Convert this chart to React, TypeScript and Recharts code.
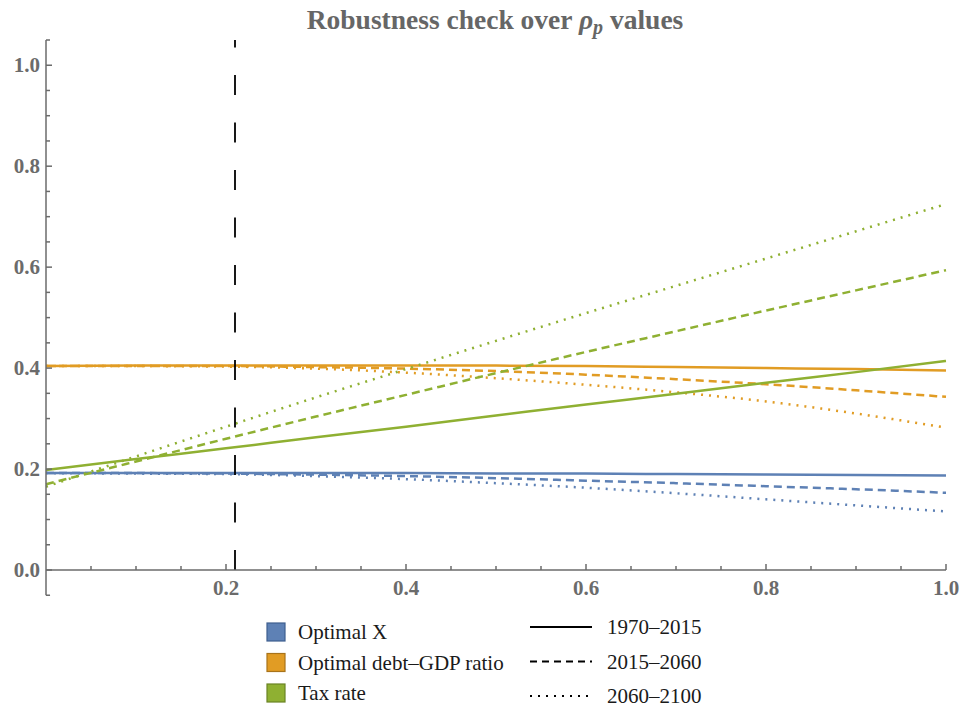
import { LineChart, Line, XAxis, YAxis, ReferenceLine, Legend } from "recharts";

// Mathematica-like default palette
const BLUE = "#5E81B5";
const ORANGE = "#E19C24";
const GREEN = "#8FB032";
const AXIS_GRAY = "#6b6b6b";
const SERIF = "'Liberation Serif', 'Times New Roman', serif";

const rhoValues = [0, 0.1, 0.2, 0.3, 0.4, 0.5, 0.6, 0.7, 0.8, 0.9, 1.0];

const optimalX1970 = [0.192, 0.192, 0.192, 0.192, 0.192, 0.191, 0.191, 0.190, 0.189, 0.188, 0.187];
const optimalX2015 = [0.192, 0.192, 0.191, 0.189, 0.186, 0.182, 0.177, 0.172, 0.166, 0.160, 0.153];
const optimalX2060 = [0.192, 0.191, 0.190, 0.186, 0.180, 0.172, 0.163, 0.152, 0.140, 0.128, 0.116];

const debt1970 = [0.404, 0.405, 0.405, 0.405, 0.405, 0.405, 0.404, 0.402, 0.400, 0.398, 0.395];
const debt2015 = [0.404, 0.404, 0.404, 0.402, 0.399, 0.394, 0.387, 0.378, 0.368, 0.356, 0.343];
const debt2060 = [0.404, 0.404, 0.403, 0.399, 0.391, 0.380, 0.367, 0.352, 0.334, 0.310, 0.282];

const tax1970 = [0.198, 0.220, 0.241, 0.263, 0.284, 0.306, 0.328, 0.349, 0.371, 0.392, 0.414];
const tax2015 = [0.170, 0.215, 0.260, 0.304, 0.347, 0.390, 0.432, 0.473, 0.514, 0.554, 0.594];
const tax2060 = [0.165, 0.225, 0.284, 0.342, 0.398, 0.454, 0.509, 0.563, 0.617, 0.671, 0.725];

const chosenRho = 0.21;

const xTicks = [0.05, 0.1, 0.15, 0.2, 0.25, 0.3, 0.35, 0.4, 0.45, 0.5, 0.55, 0.6, 0.65, 0.7, 0.75, 0.8, 0.85, 0.9, 0.95, 1.0];
const yTicks = [0, 0.05, 0.1, 0.15, 0.2, 0.25, 0.3, 0.35, 0.4, 0.45, 0.5, 0.55, 0.6, 0.65, 0.7, 0.75, 0.8, 0.85, 0.9, 0.95, 1.0, 1.05];

const groups = [
  { name: "Optimal X", color: BLUE, border: "#3f5f8f" },
  { name: "Optimal debt\u2013GDP ratio", color: ORANGE, border: "#a8731a" },
  { name: "Tax rate", color: GREEN, border: "#6a8424" },
];
const periods = [
  { name: "1970\u20132015", dash: undefined },
  { name: "2015\u20132060", dash: "7 5" },
  { name: "2060\u20132100", dash: "2 6" },
];

const data = rhoValues.map((rho, i) => ({
  rho,
  x1: optimalX1970[i],
  x2: optimalX2015[i],
  x3: optimalX2060[i],
  d1: debt1970[i],
  d2: debt2015[i],
  d3: debt2060[i],
  t1: tax1970[i],
  t2: tax2015[i],
  t3: tax2060[i],
}));

const series = [
  { key: "x1", color: BLUE, dash: undefined },
  { key: "x2", color: BLUE, dash: "8 5" },
  { key: "x3", color: BLUE, dash: "2 6" },
  { key: "d1", color: ORANGE, dash: undefined },
  { key: "d2", color: ORANGE, dash: "8 5" },
  { key: "d3", color: ORANGE, dash: "2 6" },
  { key: "t1", color: GREEN, dash: undefined },
  { key: "t2", color: GREEN, dash: "8 5" },
  { key: "t3", color: GREEN, dash: "2 6" },
];

const isMajor = (v: number) => Math.abs(v * 5 - Math.round(v * 5)) < 1e-6;

const XTick = (props: any) => {
  const { x, y, payload } = props;
  const v = payload.value as number;
  const major = isMajor(v);
  return (
    <g>
      <line x1={x} x2={x} y1={y} y2={y - (major ? 6 : 4)} stroke={AXIS_GRAY} strokeWidth={1.5} />
      {major && (
        <text x={x} y={y + 25} textAnchor="middle" fill={AXIS_GRAY} fontFamily={SERIF} fontWeight="bold" fontSize={21}>
          {v.toFixed(1)}
        </text>
      )}
    </g>
  );
};

const YTick = (props: any) => {
  const { x, y, payload } = props;
  const v = payload.value as number;
  const major = isMajor(v) && v <= 1.0;
  return (
    <g>
      <line x1={x} x2={x + (major ? 6 : 4)} y1={y} y2={y} stroke={AXIS_GRAY} strokeWidth={1.5} />
      {major && (
        <text x={x - 6} y={y + 7} textAnchor="end" fill={AXIS_GRAY} fontFamily={SERIF} fontWeight="bold" fontSize={21}>
          {v.toFixed(1)}
        </text>
      )}
    </g>
  );
};

const ChartLegend = () => (
  <svg width={962} height={107} style={{ display: "block" }}>
    {groups.map((g, i) => {
      const cy = 32 + i * 30.5;
      return (
        <g key={g.name}>
          <rect x={267} y={cy - 9} width={18} height={18} fill={g.color} stroke={g.border} strokeWidth={1.2} />
          <text x={298} y={cy + 7} fontFamily={SERIF} fontSize={21} fill="#1a1a1a">
            {g.name}
          </text>
        </g>
      );
    })}
    {periods.map((p, i) => {
      const cy = 27 + i * 34.5;
      return (
        <g key={p.name}>
          <line x1={530} x2={592} y1={cy} y2={cy} stroke="#000" strokeWidth={2.2} strokeDasharray={p.dash} />
          <text x={607} y={cy + 7} fontFamily={SERIF} fontSize={21} fill="#1a1a1a">
            {p.name}
          </text>
        </g>
      );
    })}
  </svg>
);

export default function App() {
  return (
    <div style={{ position: "absolute", left: 0, top: 0, width: 962, height: 707, background: "#fff" }}>
      <svg width={962} height={40} style={{ position: "absolute", left: 0, top: 0 }}>
        <text x={495} y={29} textAnchor="middle" fontFamily={SERIF} fontWeight="bold" fontSize={27.5} fill="#666">
          Robustness check over{" "}
          <tspan fontStyle="italic">ρ</tspan>
          <tspan fontStyle="italic" fontSize={20} dy={5}>p</tspan>
          <tspan dy={-5}> values</tspan>
        </text>
      </svg>
      <LineChart width={962} height={707} data={data} margin={{ top: 40, right: 16, left: 0, bottom: 107 }}>
        <XAxis
          dataKey="rho"
          type="number"
          domain={[0, 1]}
          ticks={xTicks}
          interval={0}
          height={30}
          tickSize={0}
          tickMargin={0}
          tickLine={false}
          tick={<XTick />}
          axisLine={{ stroke: AXIS_GRAY, strokeWidth: 1.5 }}
        />
        <YAxis
          type="number"
          domain={[0, 1.05]}
          ticks={yTicks}
          interval={0}
          width={46}
          tickSize={0}
          tickMargin={0}
          tickLine={false}
          tick={<YTick />}
          axisLine={{ stroke: AXIS_GRAY, strokeWidth: 1.5 }}
        />
        <ReferenceLine
          segment={[{ x: 0, y: 0 }, { x: 0, y: -0.05 }]}
          ifOverflow="visible"
          stroke={AXIS_GRAY}
          strokeWidth={1.5}
        />
        <ReferenceLine
          segment={[{ x: 0, y: -0.05 }, { x: 0.0045, y: -0.05 }]}
          ifOverflow="visible"
          stroke={AXIS_GRAY}
          strokeWidth={1.5}
        />
        {series.map((s) => (
          <Line
            key={s.key}
            type="monotone"
            dataKey={s.key}
            stroke={s.color}
            strokeWidth={2.5}
            strokeDasharray={s.dash}
            dot={false}
            activeDot={false}
            isAnimationActive={false}
          />
        ))}
        <ReferenceLine x={chosenRho} stroke="#000" strokeWidth={1.8} strokeDasharray="20 27.5" />
        <Legend
          layout="vertical"
          verticalAlign="middle"
          align="center"
          wrapperStyle={{ left: 0, top: 600, width: 962 }}
          content={<ChartLegend />}
        />
      </LineChart>
    </div>
  );
}
